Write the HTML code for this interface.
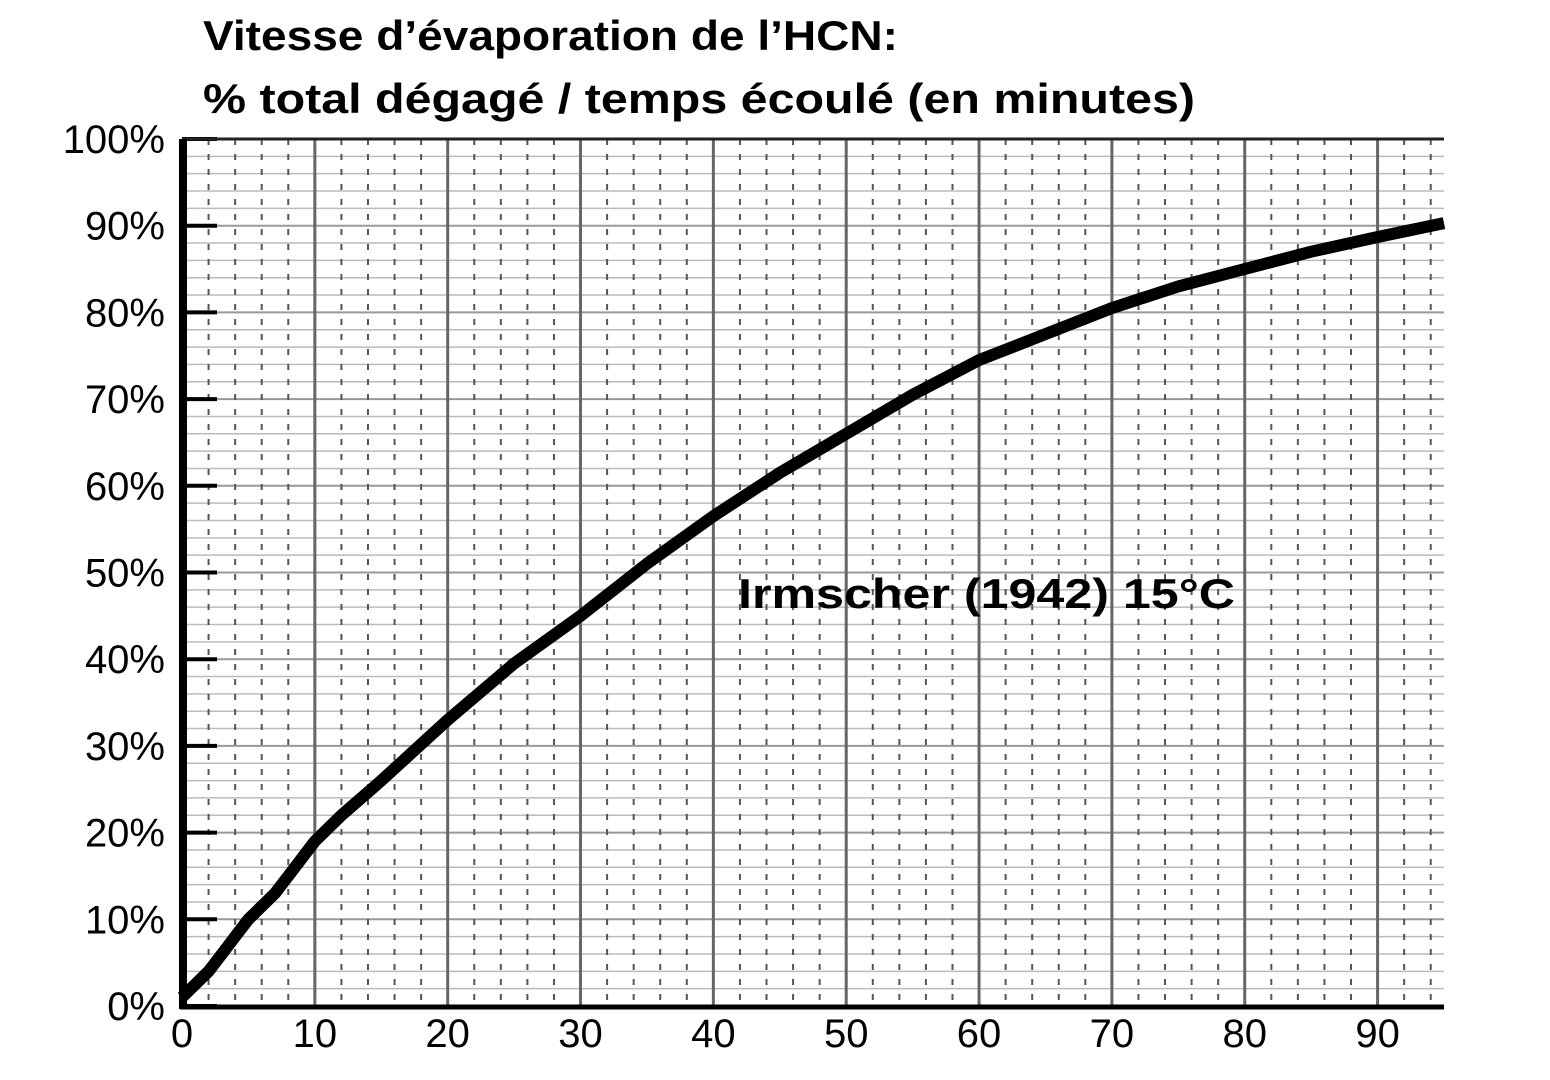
<!DOCTYPE html>
<html><head><meta charset="utf-8"><style>
body{margin:0;background:#fff;width:1550px;height:1080px;overflow:hidden}
svg{display:block}
</style></head><body>
<svg width="1550" height="1080" id="chart" font-family="Liberation Sans, sans-serif">
<text x="203" y="50" font-size="42" font-weight="bold" fill="#000" textLength="695" lengthAdjust="spacingAndGlyphs">Vitesse d’évaporation de l’HCN:</text>
<text x="203" y="113" font-size="42" font-weight="bold" fill="#000" textLength="992" lengthAdjust="spacingAndGlyphs">% total dégagé / temps écoulé (en minutes)</text>
<g id="grid"></g>
<g id="axes"></g>
<g id="series"></g>
<text x="738" y="608" font-size="42" font-weight="bold" fill="#000" textLength="497" lengthAdjust="spacingAndGlyphs">Irmscher (1942) 15°C</text>
</svg>
<script>
const xTicks=[0,10,20,30,40,50,60,70,80,90];
const yTicks=[0,10,20,30,40,50,60,70,80,90,100];
const timeMin=[0,1,2,3,4,5,6,7,8,10,12,15,20,25,30,35,40,45,50,55,60,65,70,75,80,85,90,95];
const pctReleased=[1,2.5,4,6,8,10,11.5,13,15,19,22,26,33,39.5,45,51,56.5,61.5,66,70.5,74.5,77.5,80.5,83,85,87,88.7,90.3];
const NS='http://www.w3.org/2000/svg';
const X0=182,X1=1444,XMAX=95,Y0=1006,Y1=139;
const sx=v=>X0+(X1-X0)*v/XMAX, sy=v=>Y0-(Y0-Y1)*v/100;
function mk(p,t,a){const e=document.createElementNS(NS,t);for(const k in a)e.setAttribute(k,a[k]);p.appendChild(e);return e;}
const grid=document.getElementById('grid'),axes=document.getElementById('axes'),series=document.getElementById('series');
for(let v=2;v<100;v+=2){const l=mk(grid,'line',{x1:X0,x2:X1,y1:sy(v),y2:sy(v),stroke:v%10?'#bbb':'#999','stroke-width':v%10?1.5:2});
}
for(let v=2;v<=XMAX;v+=2){if(v%10===0)continue;const l=mk(grid,'line',{x1:sx(v),x2:sx(v),y1:Y1,y2:Y0,stroke:'#555','stroke-width':2,'stroke-dasharray':'6,9'});
}
xTicks.forEach(v=>{if(v>0){const l=mk(grid,'line',{x1:sx(v),x2:sx(v),y1:Y1,y2:Y0,stroke:'#666','stroke-width':3});
}
const t=mk(axes,'text',{x:sx(v),y:1047,'font-size':40,'text-anchor':'middle',fill:'#000'});t.textContent=v;
});
yTicks.forEach(v=>{const t=mk(axes,'text',{x:165,y:sy(v)+14,'font-size':40,'text-anchor':'end',fill:'#000'});t.textContent=v+'%';

const l=mk(axes,'line',{x1:X0,x2:X0+35,y1:sy(v),y2:sy(v),stroke:'#000','stroke-width':4});
});
let b=mk(axes,'line',{x1:X0,x2:X1,y1:Y1,y2:Y1,stroke:'#222','stroke-width':3});

b=mk(axes,'line',{x1:X0-2,x2:X1,y1:Y0+1,y2:Y0+1,stroke:'#000','stroke-width':5});

b=mk(axes,'line',{x1:X0+1,x2:X0+1,y1:Y1,y2:Y0+3,stroke:'#000','stroke-width':8});

const d=timeMin.map((t,i)=>(i?'L':'M')+sx(t).toFixed(1)+','+sy(pctReleased[i]).toFixed(1)).join(' ');
const p=mk(series,'path',{d:d,fill:'none',stroke:'#000','stroke-width':12,'stroke-linejoin':'round'});

</script>
</body></html>
